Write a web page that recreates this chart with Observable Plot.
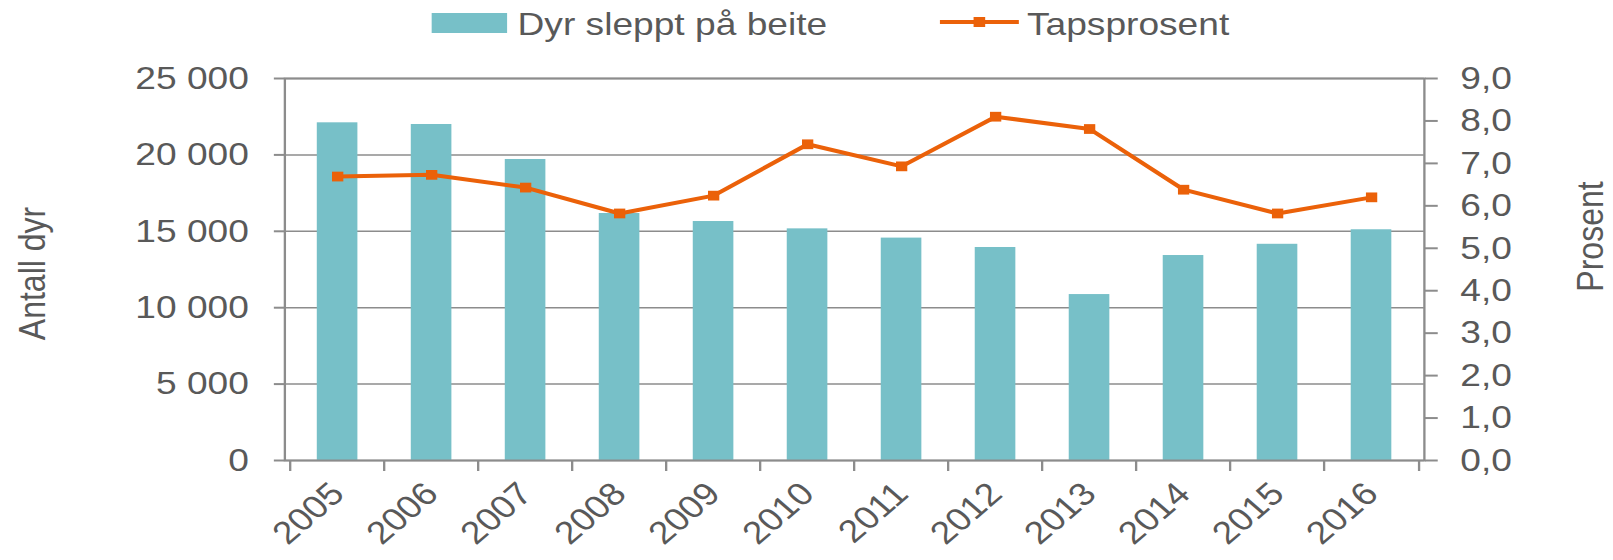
<!DOCTYPE html>
<html>
<head>
<meta charset="utf-8">
<script src="https://cdn.jsdelivr.net/npm/d3@7"></script>
<script src="https://cdn.jsdelivr.net/npm/@observablehq/plot@0.6"></script>
<style>
  html, body { margin: 0; padding: 0; background: #fff; overflow: hidden; }
  #wrap { position: relative; width: 1390px; height: 560px; transform: scaleX(1.1604); transform-origin: 0 0;
          font-family: "Liberation Sans", Arial, sans-serif; color: #595959; }
  .leg { position: absolute; font-size: 32px; line-height: 32px; white-space: nowrap; }
</style>
</head>
<body>
<div id="wrap">
  <div class="leg" style="left:372px; top:13px; width:65px; height:20px; background:#77C0C8;"></div>
  <div class="leg" style="left:446px; top:8px;">Dyr sleppt på beite</div>
  <div class="leg" style="left:810px; top:20px; width:68px; height:4px; background:#EB6109;"></div>
  <div class="leg" style="left:839px; top:17px; width:10px; height:10px; background:#EB6109;"></div>
  <div class="leg" style="left:885px; top:8px;">Tapsprosent</div>
  <div id="chart"></div>
</div>
<script>
const years = ["2005","2006","2007","2008","2009","2010","2011","2012","2013","2014","2015","2016"];
const animals = [22100, 21990, 19700, 16165, 15640, 15160, 14555, 13940, 10860, 13415, 14150, 15100];
const lossPct = [6.69, 6.73, 6.43, 5.82, 6.24, 7.45, 6.93, 8.10, 7.81, 6.38, 5.82, 6.20];
const leftTicks = [0, 5000, 10000, 15000, 20000, 25000];
const rightTicks = [0, 1, 2, 3, 4, 5, 6, 7, 8, 9];

const teal = "#77C0C8", orange = "#EB6109", grey = "#8c8c8c", textCol = "#595959";
const W = 1390, mL = 245, mR = 163;
const step = (W - mL - mR) / years.length;
const ratio = 25000 / 9;
const table = years.map((y, i) => ({year: y, animals: animals[i], loss: lossPct[i]}));
const fmtLeft = d => d3.format(",")(d).replace(/,/g, " ");
const fmtRight = d => d3.format(".1f")(d / ratio).replace(".", ",");

const chart = Plot.plot({
  width: W, height: 560,
  marginTop: 78, marginBottom: 100, marginLeft: mL, marginRight: mR,
  style: {fontFamily: "'Liberation Sans', Arial, sans-serif", fontSize: "32px", color: textCol, background: "white", overflow: "visible"},
  x: {domain: years, paddingInner: 0.57, paddingOuter: 0.285},
  y: {domain: [0, 25000]},
  marks: [
    Plot.gridY(leftTicks, {stroke: grey, strokeOpacity: 1, strokeWidth: 1.5}),
    Plot.barY(table, {x: "year", y: "animals", fill: teal}),
    Plot.frame({stroke: grey, strokeWidth: 2}),
    Plot.axisY(leftTicks, {anchor: "left", tickSize: 9, tickPadding: 22, tickFormat: fmtLeft, stroke: grey, strokeWidth: 2, fill: textCol, label: null}),
    Plot.axisY(rightTicks.map(k => k * ratio), {anchor: "right", tickSize: 11, tickPadding: 20, tickFormat: fmtRight, stroke: grey, strokeWidth: 2, fill: textCol, label: null}),
    Plot.axisX({anchor: "bottom", tickSize: 11, stroke: grey, strokeWidth: 2, fill: "none", dx: -step / 2, label: null}),
    Plot.axisX([years[years.length - 1]], {anchor: "bottom", tickSize: 11, stroke: grey, strokeWidth: 2, fill: "none", dx: step / 2, label: null}),
    Plot.axisX({anchor: "bottom", tickSize: 0, tickRotate: -45, tickPadding: 28, dx: 0, fill: textCol, label: null}),
    Plot.lineY(table, {x: "year", y: d => d.loss * ratio, stroke: orange, strokeWidth: 4}),
    Plot.dot(table, {x: "year", y: d => d.loss * ratio, symbol: "square", fill: orange, r: 5.5}),
    Plot.text(["Antall dyr"], {frameAnchor: "left", dx: -217, dy: 4, rotate: -90, lineAnchor: "middle", textAnchor: "middle", fill: textCol, fontSize: 32}),
    Plot.text(["Prosent"], {frameAnchor: "right", dx: 144, dy: -33, rotate: -90, lineAnchor: "middle", textAnchor: "middle", fill: textCol, fontSize: 32})
  ]
});
document.getElementById("chart").appendChild(chart);
</script>
</body>
</html>
